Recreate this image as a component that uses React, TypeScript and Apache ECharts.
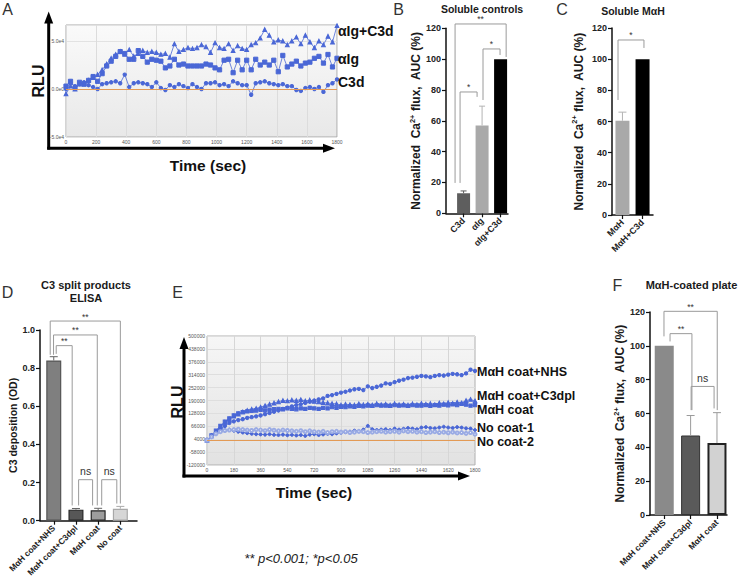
import React, { useEffect, useRef } from 'react';
import * as echarts from 'echarts';

const FONT = '"Liberation Sans", Arial, Helvetica, sans-serif';
const BLUE = '#4a67d6';
const BLUE_LIGHT = '#9aabe4';
const INK = '#1a1a1a';

// ---------- Panel A (RLU, units of 1e4) ----------
const A_TIME = Array.from({ length: 61 }, (_, i) => i * 30);
const A_IGC3D = [
  -0.5, 0.3, 0, 0.5, 0.6, 0.9, 1.2, 1.5, 2.0, 2.6,
  3.2, 3.6, 3.9, 3.6, 4.1, 3.4, 3.7, 4.0, 3.8, 3.9,
  3.8, 3.6, 3.7, 3.3, 4.7, 3.9, 4.1, 4.3, 4.2, 4.3,
  4.6, 4.4, 3.8, 4.8, 4.3, 4.2, 4.7, 4.0, 4.5, 4.2,
  4.1, 4.6, 4.8, 5.3, 6.2, 5.6, 4.9, 5.1, 5.0, 4.6,
  5.0, 5.4, 4.7, 5.6, 4.9, 4.3, 5.0, 4.6, 5.5, 4.9,
  6.6,
];
const A_IG = [
  0.3, 0.8, 0.1, 0.7, 0.5, 0.9, 1.3, 0.8, 1.6, 2.4,
  2.9, 3.4, 3.9, 3.7, 3.1, 3.1, 4.0, 3.4, 2.8, 3.1,
  3.0, 2.9, 2.2, 2.4, 3.1, 2.5, 2.6, 2.4, 2.4, 2.4,
  2.4, 2.6, 2.5, 2.2, 2.0, 3.0, 3.1, 1.7, 3.0, 2.0,
  3.0, 2.0, 3.1, 2.5, 2.8, 2.5, 3.0, 1.8, 3.5, 2.3,
  2.6, 2.9, 2.4, 2.7, 2.8, 3.2, 3.4, 2.7, 3.6, 2.3,
  3.2,
];
const A_C3D = [
  0, 0.6, 0.3, 0.5, 0.7, 0.4, 0.2, 0, 0.5, 0.6,
  0.7, 0.8, 0.6, 1.5, 0.2, 0.6, 0.7, 0.6, 0.5, 0.2,
  0.7, 0.1, -0.1, 0.4, 0.2, 0.5, 0.3, 0.1, 0.5, 0.2,
  0, 0.6, 0.6, 0.7, 0.4, 0.5, 0.3, 0.8, 0.6, 0.4,
  0.4, -0.6, 0.6, 0.7, 0.8, 0.6, 0.5, 0.4, 0.5, 0.3,
  0.3, -0.1, -0.2, 0.1, 0.2, 0, 0.2, -0.3, 0.4, 0.6,
  1.0,
];
const A_LABELS = ['αIg+C3d', 'αIg', 'C3d'];

// ---------- Panel B ----------
const B_CATS = ['C3d', 'αIg', 'αIg+C3d'];
const B_VALUES = [13, 57, 100];
const B_SD = [1.5, 12.5, 0];
const B_COLORS = ['#5e5e5e', '#a9a9a9', '#000000'];
const B_ERR_COLORS = ['#5e5e5e', '#b3b3b3', '#000000'];
const B_BRACKETS = [
  [-0.46, 2.3, 122.8, 19.7, 101.4],
  [-0.19, 0.73, 78.7, 19.7, 75.5],
  [1.05, 1.97, 106.6, 73.5, 102.7],
];
const B_SIG = ['**', '*', '*'];

// ---------- Panel C ----------
const C_CATS = ['MαH', 'MαH+C3d'];
const C_VALUES = [60.5, 100];
const C_SD = [5.5, 0];
const C_COLORS = ['#a9a9a9', '#000000'];
const C_ERR_COLORS = ['#b3b3b3', '#000000'];
const C_BRACKETS = [[-0.22, 1.07, 112.3, 73.8, 107.2]];
const C_SIG = ['*'];

// ---------- Panel D ----------
const D_CATS = ['MαH coat+NHS', 'MαH coat+C3dpl', 'MαH coat', 'No coat'];
const D_VALUES = [0.84, 0.058, 0.055, 0.063];
const D_SD = [0.02, 0.006, 0.01, 0.012];
const D_COLORS = ['#7f7f7f', '#575757', '#9d9d9d', '#d6d6d6'];
const D_BORDERS = ['#555555', '#262626', '#262626', '#a8a8a8'];
const D_ERR_COLORS = ['#666666', '#666666', '#666666', '#aaaaaa'];
const D_BRACKETS = [
  [-0.16, 3.0, 1.047, 0.87, 0.09],
  [-0.01, 1.96, 0.974, 0.87, 0.08],
  [0.11, 0.83, 0.918, 0.875, 0.08],
  [1.12, 1.75, 0.215, 0.08, 0.08],
  [2.16, 2.84, 0.215, 0.08, 0.09],
];
const D_SIG = ['**', '**', '**', 'ns', 'ns'];

// ---------- Panel E (RLU, thousands) ----------
const E_TIME = Array.from({ length: 61 }, (_, i) => i * 30);
const E_NHS = [
  0, 18, 35, 52, 68, 82, 90, 96, 100, 106,
  110, 114, 118, 124, 130, 136, 142, 150, 156, 162,
  168, 172, 178, 184, 190, 195, 200, 212, 216, 222,
  228, 232, 238, 244, 246, 240, 258, 250, 256, 262,
  272, 270, 278, 285, 290, 298, 300, 304, 308, 306,
  302, 308, 312, 310, 314, 318, 316, 312, 320, 338,
  332,
];
const E_C3DPL = [
  0, 20, 40, 62, 85, 100, 115, 125, 135, 142,
  148, 152, 158, 165, 172, 178, 184, 190, 188, 192,
  190, 194, 188, 192, 186, 184, 180, 178, 175, 174,
  168, 172, 170, 168, 174, 170, 172, 168, 175, 170,
  172, 168, 175, 170, 172, 168, 174, 170, 176, 172,
  175, 170, 178, 174, 180, 176, 182, 178, 190, 195,
  188,
];
const E_COAT = [
  0, 22, 45, 68, 88, 104, 118, 128, 134, 138,
  140, 142, 145, 143, 146, 148, 150, 148, 152, 150,
  148, 152, 150, 155, 152, 150, 155, 152, 158, 155,
  160, 158, 162, 160, 164, 162, 166, 164, 168, 165,
  166, 164, 168, 165, 167, 164, 168, 166, 165, 168,
  164, 168, 166, 170, 167, 172, 168, 174, 170, 165,
  168,
];
const E_NO1 = [
  0, 15, 30, 42, 48, 50, 45, 40, 36, 33,
  30, 28, 27, 26, 28, 25, 24, 26, 23, 25,
  22, 24, 20, 26, 28, 24, 27, 30, 28, 32,
  35, 38, 40, 45, 42, 50, 68, 52, 48, 50,
  52, 48, 55, 50, 54, 58, 55, 52, 60, 62,
  58, 56, 60, 64, 60, 58, 62, 60, 56, 55,
  48,
];
const E_NO2 = [
  0, 15, 30, 40, 46, 48, 50, 52, 50, 48,
  46, 50, 48, 45, 50, 47, 44, 48, 46, 44,
  42, 45, 40, 44, 40, 38, 42, 36, 40, 42,
  38, 40, 36, 38, 42, 40, 36, 38, 40, 42,
  38, 40, 42, 38, 44, 40, 42, 38, 40, 36,
  38, 40, 36, 38, 35, 38, 34, 36, 32, 36,
  28,
];
const E_LABELS = ['MαH coat+NHS', 'MαH coat+C3dpl', 'MαH coat', 'No coat-1', 'No coat-2'];
const E_Y_TICKS = [-120, -58, 4, 66, 128, 190, 252, 314, 376, 438, 500];

// ---------- Panel F ----------
const F_CATS = ['MαH coat+NHS', 'MαH coat+C3dpl', 'MαH coat'];
const F_VALUES = [100, 47, 42.5];
const F_SD = [0, 11.8, 18];
const F_COLORS = ['#8a8a8a', '#5a5a5a', '#d2d2d2'];
const F_BORDERS = ['#8a8a8a', '#333333', '#222222'];
const F_BORDER_W = [0, 1, 2];
const F_ERR_COLORS = ['#8a8a8a', '#9a9a9a', '#9a9a9a'];
const F_BRACKETS = [
  [-0.01, 2.01, 120.4, 105.6, 62],
  [0.22, 1.05, 107.2, 102.6, 62],
  [1.02, 1.89, 76, 62, 63],
];
const F_SIG = ['**', '**', 'ns'];

const NAME_CA = '{n|Normalized  Ca}{s|2+}{n| flux,  AUC (%)}';

function nameStyle(size: number) {
  return {
    rich: {
      n: { fontSize: size, fontWeight: 'bold', fontFamily: FONT, color: INK, lineHeight: size + 3 },
      s: { fontSize: size * 0.62, fontWeight: 'bold', fontFamily: FONT, color: INK, verticalAlign: 'top', lineHeight: size * 0.7 },
    },
  };
}

function barXAxis(g: number, min: number, max: number, names: string[], size: number) {
  const idx = names.map((_, i) => i);
  return {
    type: 'value', gridIndex: g, min, max,
    axisLine: { show: true, onZero: false, lineStyle: { color: '#111', width: 1.5 } },
    axisTick: { show: true, customValues: idx, length: 4, lineStyle: { color: '#111', width: 1.2 } },
    axisLabel: {
      show: true, customValues: idx, rotate: 45, margin: 6,
      formatter: (v: number) => names[Math.round(v)] ?? '',
      fontSize: size, fontWeight: 'bold', fontFamily: FONT, color: '#222',
    },
    splitLine: { show: false },
  };
}

function barYAxis(g: number, min: number, max: number, interval: number, name: string, gap: number, fmt?: (v: number) => string) {
  return {
    type: 'value', gridIndex: g, min, max, interval,
    axisLine: { show: true, onZero: false, lineStyle: { color: '#111', width: 1.5 } },
    axisTick: { show: true, length: 4, lineStyle: { color: '#111', width: 1.2 } },
    axisLabel: { fontSize: 9, fontWeight: 'bold', fontFamily: FONT, color: '#222', margin: 5, formatter: fmt },
    splitLine: { show: false },
    name, nameLocation: 'middle', nameGap: gap,
    nameTextStyle: name.includes('{') ? nameStyle(12) : { fontSize: 10.5, fontWeight: 'bold', fontFamily: FONT, color: INK },
  };
}

function barSeries(g: number, values: number[], colors: string[], width: number, borders?: string[], bw?: number[]) {
  return {
    type: 'bar', xAxisIndex: g, yAxisIndex: g, barWidth: width, silent: true, z: 2,
    data: values.map((v, i) => ({
      value: [i, v],
      itemStyle: {
        color: colors[i],
        borderColor: borders ? borders[i] : colors[i],
        borderWidth: borders ? (bw ? bw[i] : 1.2) : 0,
      },
    })),
  };
}

function errorSeries(g: number, values: number[], sd: number[], colors: string[], cap: number) {
  return {
    type: 'custom', xAxisIndex: g, yAxisIndex: g, clip: false, silent: true, z: 3,
    data: values.map((v, i) => [i, v, v + sd[i]]),
    encode: { x: 0, y: [1, 2] },
    renderItem: (params: any, api: any) => {
      if (api.value(2) <= api.value(1)) return null;
      const lo = api.coord([api.value(0), api.value(1)]);
      const hi = api.coord([api.value(0), api.value(2)]);
      const stroke = colors[params.dataIndex];
      return {
        type: 'group',
        children: [
          { type: 'line', shape: { x1: lo[0], y1: lo[1], x2: hi[0], y2: hi[1] }, style: { stroke, lineWidth: 1 } },
          { type: 'line', shape: { x1: hi[0] - cap, y1: hi[1], x2: hi[0] + cap, y2: hi[1] }, style: { stroke, lineWidth: 1 } },
        ],
      };
    },
  };
}

function bracketSeries(g: number, brackets: number[][], labels: string[]) {
  return {
    type: 'custom', xAxisIndex: g, yAxisIndex: g, clip: false, silent: true, z: 4,
    data: brackets,
    encode: { x: [0, 1], y: [2, 3, 4] },
    renderItem: (params: any, api: any) => {
      const x1 = api.value(0), x2 = api.value(1), yt = api.value(2), y1 = api.value(3), y2 = api.value(4);
      const a = api.coord([x1, y1]);
      const b = api.coord([x1, yt]);
      const c = api.coord([x2, yt]);
      const d = api.coord([x2, y2]);
      const lab = labels[params.dataIndex];
      const isNs = lab === 'ns';
      return {
        type: 'group',
        children: [
          { type: 'polyline', shape: { points: [a, b, c, d] }, style: { stroke: '#9a9a9a', lineWidth: 1, fill: 'none' } },
          {
            type: 'text', x: (b[0] + c[0]) / 2, y: b[1] - (isNs ? 3 : 0),
            style: {
              text: lab, fill: '#333', fontSize: isNs ? 10.5 : 8.5, fontFamily: FONT,
              fontWeight: 'normal', align: 'center', verticalAlign: 'bottom',
              textAlign: 'center', textVerticalAlign: 'bottom',
            },
          },
        ],
      };
    },
  };
}

function lineSeries(g: number, times: number[], vals: number[], symbol: string, size: number, color: string, extra: any = {}) {
  return {
    type: 'line', xAxisIndex: g, yAxisIndex: g, silent: true,
    data: times.map((t, i) => [t, vals[i]]),
    symbol, symbolSize: size, showSymbol: true,
    lineStyle: { color, width: 0.8 },
    itemStyle: { color, borderColor: color },
    ...extra,
  };
}

const zeroLine = {
  silent: true, symbol: ['none', 'none'], label: { show: false },
  lineStyle: { color: '#e39a55', width: 1, type: 'solid' },
  data: [{ yAxis: 0 }],
};

function txt(text: string, x: number, y: number, o: any = {}) {
  return {
    type: 'text', x, y, rotation: o.rot || 0, silent: true, z: 10,
    style: {
      text, fill: o.color || INK, fontSize: o.size || 12, fontWeight: o.weight || 'normal',
      fontStyle: o.italic ? 'italic' : 'normal', fontFamily: FONT,
      align: o.align || 'center', verticalAlign: 'middle',
      textAlign: o.align || 'center', textVerticalAlign: 'middle',
    },
  };
}

function arrowV(x: number, yBottom: number, yTip: number) {
  return [
    { type: 'line', silent: true, shape: { x1: x, y1: yBottom, x2: x, y2: yTip + 10 }, style: { stroke: '#000', lineWidth: 3 } },
    { type: 'polygon', silent: true, shape: { points: [[x, yTip], [x - 4.5, yTip + 12], [x + 4.5, yTip + 12]] }, style: { fill: '#000' } },
  ];
}
function arrowH(y: number, xLeft: number, xTip: number) {
  return [
    { type: 'line', silent: true, shape: { x1: xLeft, y1: y, x2: xTip - 10, y2: y }, style: { stroke: '#000', lineWidth: 3 } },
    { type: 'polygon', silent: true, shape: { points: [[xTip, y], [xTip - 12, y - 4.5], [xTip - 12, y + 4.5]] }, style: { fill: '#000' } },
  ];
}

function buildOption() {
  const bgA = new echarts.graphic.LinearGradient(0, 0, 0, 1, [
    { offset: 0, color: '#fafafa' }, { offset: 1, color: '#e8e8e8' },
  ]);
  const bgE = new echarts.graphic.LinearGradient(0, 0, 0, 1, [
    { offset: 0, color: '#f6f6f6' }, { offset: 1, color: '#e2e2e2' },
  ]);
  const tinyLabel = { fontSize: 5, color: '#555', fontFamily: FONT, margin: 2 };
  const plain = (v: number) => String(v);

  return {
    animation: false,
    backgroundColor: '#ffffff',
    grid: [
      { left: 66, top: 25, width: 271, height: 112, show: true, backgroundColor: bgA, borderColor: '#a9a9a9', borderWidth: 1 },
      { left: 446, top: 28.3, width: 62, height: 185 },
      { left: 612, top: 28, width: 41, height: 187 },
      { left: 40, top: 330, width: 97, height: 190.7 },
      { left: 207, top: 336, width: 268, height: 129, show: true, backgroundColor: bgE, borderColor: '#b0b0b0', borderWidth: 1 },
      { left: 650, top: 312, width: 77, height: 203 },
    ],
    xAxis: [
      {
        type: 'value', gridIndex: 0, min: 0, max: 1800, interval: 200,
        axisLine: { show: false }, axisTick: { show: false }, axisLabel: { ...tinyLabel, formatter: plain },
        splitLine: { show: true, lineStyle: { color: '#dcdcdc', width: 1 } },
      },
      barXAxis(1, -0.95, 2.4, B_CATS, 9),
      barXAxis(2, -0.52, 1.52, C_CATS, 9),
      barXAxis(3, -0.62, 3.75, D_CATS, 8.5),
      {
        type: 'value', gridIndex: 4, min: 0, max: 1800, interval: 180,
        axisLine: { show: false }, axisTick: { show: false }, axisLabel: { ...tinyLabel, formatter: plain },
        splitLine: { show: true, lineStyle: { color: '#d6d6d6', width: 1 } },
      },
      barXAxis(5, -0.54, 2.38, F_CATS, 8.5),
    ],
    yAxis: [
      {
        type: 'value', gridIndex: 0, min: -5, max: 6.67, interval: 5,
        axisLine: { show: false }, axisTick: { show: false },
        axisLabel: {
          ...tinyLabel,
          formatter: (v: number) => (Math.abs(v % 5) > 1e-6 ? '' : v === 0 ? '0.0e0' : `${v.toFixed(1)}e4`),
        },
        splitLine: { show: true, lineStyle: { color: '#e2e2e2', width: 1 } },
      },
      barYAxis(1, 0, 120, 20, NAME_CA, 19),
      barYAxis(2, 0, 120, 20, NAME_CA, 26),
      barYAxis(3, 0, 1, 0.2, 'C3 deposition (OD)', 19, (v: number) => v.toFixed(1)),
      {
        type: 'value', gridIndex: 4, min: -120, max: 500,
        axisLine: { show: false },
        axisTick: { show: false, customValues: E_Y_TICKS },
        axisLabel: { ...tinyLabel, customValues: E_Y_TICKS, formatter: (v: number) => String(Math.round(v * 1000)) },
        splitLine: { show: true, lineStyle: { color: '#dedede', width: 1 } },
      },
      barYAxis(5, 0, 120, 20, NAME_CA, 18),
    ],
    series: [
      // A
      lineSeries(0, A_TIME, A_IGC3D, 'triangle', 3.8, BLUE),
      lineSeries(0, A_TIME, A_IG, 'rect', 4.2, BLUE),
      lineSeries(0, A_TIME, A_C3D, 'circle', 3.4, BLUE, { markLine: zeroLine }),
      // B
      barSeries(1, B_VALUES, B_COLORS, 13),
      errorSeries(1, B_VALUES, B_SD, B_ERR_COLORS, 3),
      bracketSeries(1, B_BRACKETS, B_SIG),
      // C
      barSeries(2, C_VALUES, C_COLORS, 14),
      errorSeries(2, C_VALUES, C_SD, C_ERR_COLORS, 4),
      bracketSeries(2, C_BRACKETS, C_SIG),
      // D
      barSeries(3, D_VALUES, D_COLORS, 15, D_BORDERS),
      errorSeries(3, D_VALUES, D_SD, D_ERR_COLORS, 4),
      bracketSeries(3, D_BRACKETS, D_SIG),
      // E
      lineSeries(4, E_TIME, E_NHS, 'circle', 3.3, BLUE, { markLine: zeroLine }),
      lineSeries(4, E_TIME, E_C3DPL, 'triangle', 3.8, BLUE),
      lineSeries(4, E_TIME, E_COAT, 'rect', 3.3, BLUE),
      lineSeries(4, E_TIME, E_NO1, 'circle', 3, BLUE),
      lineSeries(4, E_TIME, E_NO2, 'emptyCircle', 3, BLUE_LIGHT),
      // F
      barSeries(5, F_VALUES, F_COLORS, 19, F_BORDERS, F_BORDER_W),
      errorSeries(5, F_VALUES, F_SD, F_ERR_COLORS, 4),
      bracketSeries(5, F_BRACKETS, F_SIG),
    ],
    graphic: {
      elements: [
        // panel letters
        txt('A', 7.5, 9.5, { size: 16, color: '#333' }),
        txt('B', 398.5, 9.5, { size: 16, color: '#333' }),
        txt('C', 562, 9.5, { size: 16, color: '#333' }),
        txt('D', 7.5, 292, { size: 16, color: '#333' }),
        txt('E', 177.5, 292, { size: 16, color: '#333' }),
        txt('F', 617.5, 285, { size: 16, color: '#333' }),
        // titles
        txt('Soluble controls', 482, 9, { size: 10.5, weight: 'bold' }),
        txt('Soluble MαH', 633, 11, { size: 10.5, weight: 'bold' }),
        txt('C3 split products', 86, 285, { size: 11, weight: 'bold' }),
        txt('ELISA', 86, 297.5, { size: 11, weight: 'bold' }),
        txt('MαH-coated plate', 691.5, 285, { size: 11, weight: 'bold' }),
        // panel A axes
        ...arrowV(48.7, 149.5, 11.5),
        ...arrowH(148.3, 47.2, 335),
        txt('RLU', 38.5, 81, { size: 16, weight: 'bold', rot: Math.PI / 2, color: '#111' }),
        txt('Time (sec)', 208, 165, { size: 15.5, weight: 'bold', color: '#111' }),
        txt(A_LABELS[0], 338, 31, { size: 14, weight: 'bold', align: 'left', color: '#111' }),
        txt(A_LABELS[1], 338, 59, { size: 14, weight: 'bold', align: 'left', color: '#111' }),
        txt(A_LABELS[2], 338, 82, { size: 14, weight: 'bold', align: 'left', color: '#111' }),
        // panel E axes
        ...arrowV(184, 477.5, 337),
        ...arrowH(476, 182.5, 470),
        txt('RLU', 177.5, 402, { size: 16, weight: 'bold', rot: Math.PI / 2, color: '#111' }),
        txt('Time (sec)', 314, 492, { size: 15.5, weight: 'bold', color: '#111' }),
        txt(E_LABELS[0], 477, 372.3, { size: 12.5, weight: 'bold', align: 'left', color: '#111' }),
        txt(E_LABELS[1], 477, 395.8, { size: 12.5, weight: 'bold', align: 'left', color: '#111' }),
        txt(E_LABELS[2], 477, 409.6, { size: 12.5, weight: 'bold', align: 'left', color: '#111' }),
        txt(E_LABELS[3], 477, 427.7, { size: 12.5, weight: 'bold', align: 'left', color: '#111' }),
        txt(E_LABELS[4], 477, 442.3, { size: 12.5, weight: 'bold', align: 'left', color: '#111' }),
        // footnote
        txt('** p<0.001; *p<0.05', 301, 558, { size: 13, italic: true, color: '#222' }),
      ],
    },
  };
}

export default function App() {
  const ref = useRef<HTMLDivElement>(null);
  useEffect(() => {
    if (!ref.current) return;
    const chart = echarts.init(ref.current, undefined, { renderer: 'svg', width: 744, height: 583 });
    chart.setOption(buildOption() as any);
    return () => chart.dispose();
  }, []);
  return (
    <div
      ref={ref}
      style={{ position: 'fixed', left: 0, top: 0, width: 744, height: 583, background: '#fff' }}
    />
  );
}
